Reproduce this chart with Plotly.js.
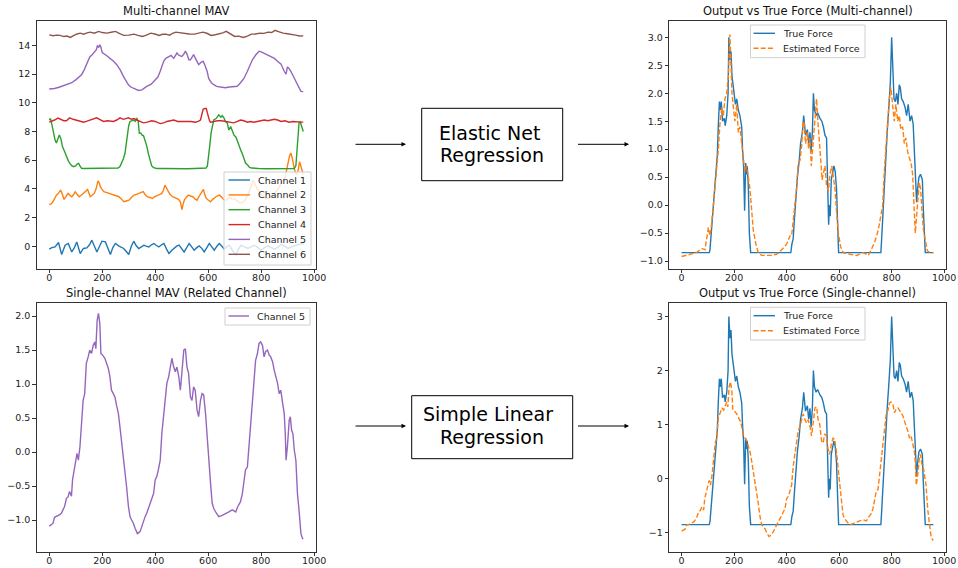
<!DOCTYPE html>
<html>
<head>
<meta charset="utf-8">
<script src="https://cdn.plot.ly/plotly-3.0.1.min.js"></script>
<style>html,body{margin:0;padding:0;background:#fff;}#chart{width:958px;height:568px;}</style>
</head>
<body>
<div id="chart"></div>
<script>
// ---------------- DATA ----------------
const channelNames = ['Channel 1','Channel 2','Channel 3','Channel 4','Channel 5','Channel 6'];
const forceNames = ['True Force','Estimated Force'];
const singleName = ['Channel 5'];
const panelTitles = ['Multi-channel MAV','Single-channel MAV (Related Channel)','Output vs True Force (Multi-channel)','Output vs True Force (Single-channel)'];
const boxTopLines = ['Elastic Net','Regression'];
const boxBottomLines = ['Simple Linear','Regression'];
const xTicks = [0,200,400,600,800,1000];
const yTicksTL = [0,2,4,6,8,10,12,14];
const yTicksBL = [-1.0,-0.5,0.0,0.5,1.0,1.5,2.0];
const yTicksTR = [-1.0,-0.5,0.0,0.5,1.0,1.5,2.0,2.5,3.0];
const yTicksBR = [-1,0,1,2,3];

const ch1X = [0,10,22,35,47,60,72,85,95,104,
117,129,142,152,161,170,180,190,199,212,
222,231,240,250,262,272,281,290,300,310,
319,328,338,348,357,366,376,386,395,405,
414,424,433,443,452,462,471,481,490,500,
509,519,528,538,547,557,566,576,585,595,
604,614,623,633,642,652,661,670,680,692,
705,715,724,737,750,762,775,788,800,813,
826,838,851,864,876,889,902,914,927,940,
952,959];
const ch1Y = [-0.2,-0.1,-0.05,0.26,-0.58,0.07,0.19,-0.4,-0.1,0.3,
-0.51,-0.16,-0.12,0.1,0.42,0.0,-0.4,0.0,0.35,0.3,
-0.2,-0.58,-0.1,0.19,0.02,-0.1,-0.16,-0.35,-0.58,0.0,
0.35,0.05,-0.16,-0.05,0.07,0.0,-0.05,0.1,0.19,0.05,
-0.05,0.1,0.19,-0.2,-0.51,-0.3,-0.16,0.0,0.07,-0.15,
-0.4,-0.1,0.19,-0.05,-0.28,-0.1,0.02,-0.15,-0.4,-0.1,
0.19,-0.05,-0.28,0.0,0.19,0.0,-0.21,-0.05,0.07,-0.3,
-0.63,-0.2,0.07,-0.05,-0.16,-0.05,0.07,-0.1,-0.28,-0.1,
0.02,-0.1,-0.21,-0.05,0.12,0.0,-0.16,-0.05,0.02,0.1,
0.19,0.1];

const ch2X = [0,7,14,20,27,35,43,50,56,63,
71,78,85,92,98,106,113,121,129,137,
145,150,155,162,170,177,184,189,193,200,
206,215,225,234,244,253,263,272,282,291,
301,310,320,329,339,347,355,362,370,380,
389,398,408,416,425,431,437,443,450,457,
465,473,482,489,495,501,505,510,517,525,
533,542,550,558,565,573,582,587,593,601,
609,616,624,633,643,651,659,668,680,690,
700,710,720,728,735,742,750,760,770,778,
785,793,800,810,820,830,840,850,860,868,
875,882,890,896,902,907,912,918,925,930,
935,940,945,950,955,959];
const ch2Y = [2.91,2.95,3.10,3.3,3.56,3.7,3.91,3.6,3.26,3.45,
3.68,3.55,3.45,3.6,3.80,3.6,3.45,3.55,3.68,3.8,
3.96,3.7,3.45,3.55,3.68,4.0,4.56,4.4,4.15,3.95,
3.80,3.75,3.68,3.6,3.56,3.5,3.45,3.3,3.10,3.15,
3.21,3.4,3.56,3.62,3.68,3.75,3.80,3.6,3.45,3.4,
3.33,3.45,3.56,3.6,3.68,3.9,4.26,4.0,3.80,3.6,
3.45,3.4,3.33,3.25,3.10,2.56,2.9,3.21,3.4,3.56,
3.5,3.45,3.3,3.21,3.45,3.68,3.96,3.6,3.33,3.2,
3.10,3.25,3.40,3.5,3.56,3.4,3.26,3.2,3.4,3.3,
3.3,3.15,3.0,3.05,3.1,3.3,3.6,4.1,4.6,4.3,
4.0,3.8,3.6,3.45,3.3,3.35,3.5,3.7,3.9,4.1,
4.4,4.6,4.8,5.3,5.9,6.3,6.5,6.1,5.4,5.1,
5.0,5.3,5.9,5.6,5.3,5.0];

const ch3X = [0,5,10,16,22,27,33,38,44,50,
58,65,72,78,85,92,100,106,111,116,
122,130,150,170,190,210,230,250,260,267,
273,280,286,290,295,300,305,312,318,324,
330,336,340,345,350,356,362,368,375,381,
387,394,400,406,430,460,490,520,550,580,
592,597,602,606,611,616,621,630,640,648,
653,660,665,672,678,685,691,697,705,712,
718,723,730,736,741,749,756,765,774,790,
820,850,880,910,925,931,935,939,943,947,
951,955,959];
const ch3Y = [8.8,8.9,8.5,7.8,7.4,7.2,7.5,7.76,7.5,6.95,
6.6,6.25,5.95,5.78,5.62,5.55,5.6,5.75,5.78,5.6,
5.43,5.42,5.42,5.4,5.42,5.4,5.42,5.42,5.45,5.55,
5.78,6.1,6.48,7.0,7.88,8.4,8.7,8.75,8.8,8.7,
8.93,8.7,7.88,7.9,7.76,7.7,7.4,7.0,6.4,6.0,
5.6,5.48,5.43,5.42,5.42,5.4,5.42,5.4,5.42,5.42,
5.45,5.6,6.25,7.0,7.9,8.5,8.8,8.9,9.16,9.0,
9.1,8.93,8.7,8.6,8.1,8.35,8.0,7.76,7.6,7.3,
6.95,6.7,6.4,6.0,5.8,5.66,5.5,5.45,5.43,5.42,
5.4,5.42,5.42,5.42,5.42,5.6,6.7,7.8,8.6,8.7,
8.5,8.35,8.0];

const ch4X = [0,10,20,33,45,55,65,77,90,100,
115,130,140,155,168,179,190,205,220,235,
242,255,267,280,290,299,310,320,330,343,
356,370,387,400,412,419,432,444,457,470,
485,501,512,520,535,552,562,571,576,581,
587,593,597,600,605,609,620,635,650,665,
680,697,710,722,735,748,760,773,785,798,
812,825,840,850,862,875,890,905,920,935,
950,959];
const ch4Y = [8.65,8.7,8.8,8.93,8.8,8.75,8.75,8.95,8.85,8.8,
8.75,8.65,8.7,8.8,8.9,8.95,8.85,8.7,8.75,8.7,
8.7,8.8,8.95,8.85,8.9,8.95,8.85,8.9,8.8,8.7,
8.6,8.65,8.75,8.7,8.6,8.55,8.6,8.7,8.75,8.8,
8.7,8.7,8.75,8.7,8.7,8.65,8.7,8.8,9.2,9.55,
9.6,9.6,9.3,9.0,8.75,8.65,8.7,8.75,8.75,8.7,
8.65,8.6,8.7,8.8,8.75,8.65,8.7,8.65,8.7,8.75,
8.8,8.75,8.8,8.85,8.8,8.7,8.75,8.65,8.7,8.65,
8.65,8.65];

const ch5X = [0,20,40,65,85,100,112,122,132,140,
147,153,162,172,178,182,187,191,195,200,
210,220,229,240,255,268,280,290,299,308,
318,328,337,350,368,385,400,410,419,425,
432,440,451,460,470,476,482,490,501,508,
514,520,527,533,539,545,552,558,564,572,
581,586,590,596,602,612,621,632,647,665,
680,697,710,722,735,748,758,767,780,792,
800,812,824,837,850,862,875,887,894,899,
905,912,920,931,940,950,959];
const ch5Y = [10.96,11.0,11.1,11.26,11.4,11.6,11.8,11.96,12.3,12.66,
12.9,13.2,13.35,13.6,13.7,14.0,13.85,14.05,13.9,13.5,
13.4,13.25,13.1,12.95,12.66,12.3,11.84,11.5,11.26,11.1,
11.0,10.9,10.86,10.9,11.14,11.3,11.6,11.8,12.2,12.5,
12.9,13.1,13.24,13.3,13.1,13.3,13.47,13.3,13.24,13.4,
13.6,13.4,13.0,13.0,13.2,13.36,13.1,12.9,12.66,12.8,
12.9,12.7,12.5,12.2,11.7,11.4,11.26,11.15,11.1,11.05,
11.1,11.1,11.15,11.4,11.7,12.2,12.6,13.0,13.35,13.6,
13.55,13.45,13.36,13.2,13.1,12.9,12.7,12.2,12.0,12.5,
12.4,12.2,11.9,11.4,11.1,10.8,10.78];

const ch6X = [0,15,28,41,55,67,79,92,105,117,
130,143,155,170,187,200,218,234,250,266,
282,300,320,335,351,367,383,399,415,428,
440,455,466,478,494,510,528,548,563,580,
595,611,627,643,655,668,684,700,716,732,
748,763,779,795,810,826,840,852,868,883,
899,915,930,945,959];
const ch6Y = [14.74,14.68,14.72,14.70,14.62,14.66,14.56,14.7,14.8,14.86,
14.78,14.88,14.93,14.85,14.98,14.9,14.86,14.92,14.98,14.82,
14.70,14.72,14.79,14.7,14.63,14.72,14.86,14.8,14.70,14.78,
14.79,14.72,14.85,14.93,14.88,14.86,14.8,14.79,14.86,14.93,
14.85,14.70,14.75,14.81,14.88,14.98,14.8,14.63,14.65,14.56,
14.65,14.79,14.8,14.86,14.84,14.93,14.9,15.05,14.95,14.86,
14.82,14.79,14.72,14.66,14.67];

const singleX = [0,8,14,20,27,33,40,46,52,58,
65,71,77,84,88,93,100,105,110,116,
122,128,134,140,147,153,160,166,172,176,
181,186,191,195,201,210,217,223,229,235,
242,248,254,261,267,273,280,286,292,299,
305,311,318,324,333,343,349,356,362,368,
378,387,394,400,406,412,419,425,432,438,
444,451,457,463,470,476,482,489,495,501,
508,514,520,526,533,539,545,551,558,564,
571,577,583,590,596,602,609,615,621,631,
640,653,665,678,691,704,712,722,729,735,
741,748,754,760,767,773,779,786,792,798,
805,811,817,824,830,836,843,849,855,862,
868,874,881,887,891,894,899,906,910,915,
920,925,931,937,944,950,956,959];
const singleY = [-1.09,-1.07,-1.05,-0.96,-0.95,-0.93,-0.92,-0.9,-0.85,-0.8,
-0.68,-0.66,-0.58,-0.65,-0.41,-0.29,-0.14,-0.02,-0.12,0.08,
0.42,0.76,0.86,1.3,1.4,1.5,1.45,1.57,1.62,1.52,
1.94,2.04,1.89,1.45,1.43,1.38,1.3,1.23,1.11,0.91,
0.86,0.81,0.69,0.57,0.37,0.18,-0.12,-0.26,-0.51,-0.8,
-0.95,-1.0,-1.05,-1.12,-1.2,-1.17,-1.1,-1.0,-0.95,-0.9,
-0.8,-0.71,-0.61,-0.41,-0.36,-0.26,-0.12,0.27,0.57,0.86,
1.01,1.11,1.25,1.38,1.25,1.18,1.25,1.11,0.91,1.16,
1.5,1.52,1.25,1.16,0.81,0.76,0.96,0.91,0.62,0.52,
0.76,0.86,0.84,0.57,0.23,-0.22,-0.46,-0.75,-0.83,-0.9,
-0.95,-0.93,-0.9,-0.88,-0.85,-0.88,-0.8,-0.73,-0.61,-0.46,
-0.26,-0.22,0.08,0.42,0.76,1.06,1.35,1.45,1.6,1.62,
1.57,1.4,1.48,1.5,1.43,1.4,1.33,1.21,1.11,1.01,
0.86,0.91,0.72,0.57,0.27,-0.12,0.08,0.47,0.52,0.32,
0.27,0.03,-0.12,-0.61,-0.9,-1.2,-1.27,-1.28];
const estSingleY = [-0.97,-0.95,-0.93,-0.85,-0.85,-0.83,-0.82,-0.80,-0.76,-0.71,
-0.61,-0.59,-0.52,-0.58,-0.37,-0.27,-0.13,-0.03,-0.12,0.06,
0.36,0.66,0.75,1.13,1.22,1.31,1.27,1.37,1.42,1.33,
1.70,1.79,1.65,1.27,1.25,1.20,1.13,1.07,0.97,0.79,
0.75,0.70,0.60,0.49,0.32,0.15,-0.12,-0.24,-0.46,-0.71,
-0.85,-0.89,-0.93,-1.00,-1.07,-1.04,-0.98,-0.89,-0.85,-0.80,
-0.71,-0.63,-0.55,-0.37,-0.33,-0.24,-0.12,0.23,0.49,0.75,
0.88,0.97,1.09,1.20,1.09,1.03,1.09,0.97,0.79,1.01,
1.31,1.33,1.09,1.01,0.70,0.66,0.83,0.79,0.54,0.45,
0.66,0.75,0.73,0.49,0.19,-0.20,-0.41,-0.67,-0.74,-0.80,
-0.85,-0.83,-0.80,-0.78,-0.76,-0.78,-0.71,-0.65,-0.55,-0.41,
-0.24,-0.20,0.06,0.36,0.66,0.92,1.18,1.27,1.40,1.42,
1.37,1.22,1.29,1.31,1.25,1.22,1.16,1.05,0.97,0.88,
0.75,0.79,0.62,0.49,0.23,-0.12,0.06,0.40,0.45,0.27,
0.23,0.02,-0.12,-0.55,-0.80,-1.07,-1.13,-1.14];

const forceX = [0,20,40,60,80,100,105,108,112,118,
124,130,136,140,144,147,151,156,163,166,
172,177,180,184,188,192,197,201,205,210,
216,222,229,232,236,240,244,248,250,254,
258,263,300,350,400,416,420,425,429,434,
441,448,453,460,465,472,479,484,489,493,
498,502,506,512,518,527,534,540,546,552,
556,560,563,566,570,575,580,585,590,594,
598,650,700,759,762,766,771,777,783,790,
795,800,804,809,814,819,824,829,833,838,
844,851,857,863,870,876,882,886,890,895,
899,904,910,917,920,924,928,959];
const forceY = [-0.85,-0.85,-0.85,-0.85,-0.85,-0.85,-0.85,-0.8,-0.55,-0.2,
0.05,0.45,0.9,1.45,1.85,1.7,1.85,1.5,1.55,1.42,
1.6,2.0,3.0,2.6,2.75,2.3,2.1,1.95,1.8,1.9,
1.7,1.6,1.4,1.0,0.7,-0.1,0.75,0.55,0.7,0.35,
-0.5,-0.85,-0.85,-0.85,-0.85,-0.85,-0.7,-0.6,-0.3,0.1,
0.5,0.8,1.1,1.3,1.6,1.25,1.35,1.1,1.3,0.95,
1.3,2.0,1.7,1.6,1.65,1.55,1.5,1.4,1.25,1.2,
0.5,-0.35,0.0,-0.2,0.45,0.6,0.7,0.6,0.3,-0.3,
-0.85,-0.85,-0.85,-0.85,-0.6,-0.2,0.3,0.8,1.3,1.8,
2.2,3.0,2.5,1.9,1.85,2.0,1.8,2.15,2.1,1.9,
1.85,1.75,1.6,1.8,1.5,1.6,1.45,1.0,0.4,0.05,
0.3,0.5,0.55,0.45,0.0,-0.5,-0.85,-0.85];

const estMultiX = [0,19,45,57,70,80,89,95,102,108,
114,121,127,134,140,146,153,159,165,172,
178,184,188,192,197,203,210,216,222,229,
235,241,248,254,260,267,273,283,292,305,
337,362,381,400,413,419,425,432,438,444,
451,457,463,467,472,479,484,489,494,499,
505,510,514,519,524,530,535,540,546,552,
559,565,572,578,584,590,597,606,616,641,
667,692,711,724,736,749,758,766,772,778,
785,791,797,804,810,816,823,829,835,842,
848,854,861,867,874,880,885,890,895,900,
905,910,915,920,927,936,946,959];
const estMultiY = [-0.92,-0.9,-0.87,-0.85,-0.8,-0.78,-0.8,-0.6,-0.4,-0.55,
-0.35,0.0,0.3,0.6,1.0,1.45,1.75,1.6,1.9,2.0,
2.3,3.05,2.5,2.0,1.75,1.5,1.8,1.3,1.4,1.1,
0.85,0.6,0.7,0.5,0.3,-0.1,-0.45,-0.7,-0.85,-0.9,
-0.9,-0.88,-0.8,-0.7,-0.55,-0.55,-0.3,0.0,0.3,0.75,
0.8,1.05,1.5,1.45,1.1,1.3,1.0,1.2,0.7,1.0,
1.4,1.6,1.9,1.5,1.1,0.8,0.45,0.55,0.7,0.35,
0.25,0.55,0.7,0.5,0.3,-0.1,-0.5,-0.75,-0.85,-0.88,
-0.9,-0.85,-0.9,-0.78,-0.65,-0.45,-0.2,0.0,0.6,1.0,
1.5,1.9,2.1,1.7,1.5,1.8,1.5,1.6,1.35,1.4,
1.1,1.2,0.95,0.85,0.75,0.55,0.1,-0.5,-0.2,0.2,
0.4,0.3,-0.1,-0.4,-0.6,-0.82,-0.85,-0.85];

// ---------------- STYLE / LAYOUT ----------------
const C = ['#1f77b4','#ff7f0e','#2ca02c','#d62728','#9467bd','#8c564b'];
const W = 958, H = 568;
const px = x => x / W, py = y => 1 - y / H;
const FONT = 'DejaVu Sans, Verdana, sans-serif';
const LW = 1.4, DASH = '5px,2.2px';

const chX = [ch1X,ch2X,ch3X,ch4X,ch5X,ch6X];
const chY = [ch1Y,ch2Y,ch3Y,ch4Y,ch5Y,ch6Y];
const traces = [];
for (let i = 0; i < 6; i++) {
  traces.push({x: chX[i], y: chY[i], type: 'scatter', mode: 'lines', name: channelNames[i],
    line: {color: C[i], width: LW}, xaxis: 'x', yaxis: 'y', showlegend: false});
}
traces.push({x: singleX, y: singleY, type: 'scatter', mode: 'lines', name: singleName[0],
  line: {color: C[4], width: LW}, xaxis: 'x2', yaxis: 'y2', showlegend: false});
traces.push({x: forceX, y: forceY, type: 'scatter', mode: 'lines', name: forceNames[0],
  line: {color: C[0], width: LW}, xaxis: 'x3', yaxis: 'y3', showlegend: false});
traces.push({x: estMultiX, y: estMultiY, type: 'scatter', mode: 'lines', name: forceNames[1],
  line: {color: C[1], width: LW, dash: DASH}, xaxis: 'x3', yaxis: 'y3', showlegend: false});
traces.push({x: forceX, y: forceY, type: 'scatter', mode: 'lines', name: forceNames[0],
  line: {color: C[0], width: LW}, xaxis: 'x4', yaxis: 'y4', showlegend: false});
traces.push({x: singleX, y: estSingleY, type: 'scatter', mode: 'lines', name: forceNames[1],
  line: {color: C[1], width: LW, dash: DASH}, xaxis: 'x4', yaxis: 'y4', showlegend: false});

function axis(extra) {
  return Object.assign({
    showgrid: false, zeroline: false, showline: true, mirror: true,
    linecolor: '#000', linewidth: 0.8, ticks: 'outside', ticklen: 3.5, tickwidth: 0.8,
    tickcolor: '#000', tickfont: {family: FONT, size: 9.5, color: '#222'}
  }, extra);
}
const xr = [-48, 1007];
const colL = [px(36.5), px(316)], colR = [px(669), px(946)];
const rowT = [py(269), py(20.5)], rowB = [py(552), py(302.5)];
const xAx = (d, a) => axis({domain: d, anchor: a, range: xr, tickvals: xTicks, ticklabelstandoff: -4});

const layout = {
  width: W, height: H, margin: {l: 0, r: 0, t: 0, b: 0},
  paper_bgcolor: '#fff', plot_bgcolor: '#fff', showlegend: false,
  font: {family: FONT, color: '#222'},
  xaxis: xAx(colL, 'y'),
  yaxis: axis({domain: rowT, anchor: 'x', range: [-1.59, 15.74], tickvals: yTicksTL}),
  xaxis2: xAx(colL, 'y2'),
  yaxis2: axis({domain: rowB, anchor: 'x2', range: [-1.47, 2.2], tickvals: yTicksBL, tickformat: '.1f'}),
  xaxis3: xAx(colR, 'y3'),
  yaxis3: axis({domain: rowT, anchor: 'x3', range: [-1.143, 3.30], tickvals: yTicksTR, tickformat: '.1f'}),
  xaxis4: xAx(colR, 'y4'),
  yaxis4: axis({domain: rowB, anchor: 'x4', range: [-1.356, 3.26], tickvals: yTicksBR}),
  shapes: [], annotations: []
};

// Panel titles
const titlePos = [[176.3, 10.5], [176.3, 292.7], [807.5, 10.5], [807.5, 292.7]];
panelTitles.forEach((t, i) => layout.annotations.push({
  text: t, x: px(titlePos[i][0]), y: py(titlePos[i][1]), xref: 'paper', yref: 'paper',
  xanchor: 'center', yanchor: 'middle', showarrow: false,
  font: {family: FONT, size: 11.5, color: '#111'}
}));

// Custom legends (matplotlib style)
function legend(box, names, colors, dashes, rowY, lineX, textX) {
  layout.shapes.push({type: 'rect', xref: 'paper', yref: 'paper', layer: 'above',
    x0: px(box[0]), x1: px(box[1]), y0: py(box[3]), y1: py(box[2]),
    fillcolor: 'rgba(255,255,255,0.8)', line: {color: '#d0d0d0', width: 1}});
  names.forEach((n, i) => {
    layout.shapes.push({type: 'line', xref: 'paper', yref: 'paper', layer: 'above',
      x0: px(lineX[0]), x1: px(lineX[1]), y0: py(rowY[i]), y1: py(rowY[i]),
      line: {color: colors[i], width: LW, dash: dashes[i]}});
    layout.annotations.push({text: n, x: px(textX), y: py(rowY[i]), xref: 'paper', yref: 'paper',
      xanchor: 'left', yanchor: 'middle', showarrow: false,
      font: {family: FONT, size: 9.5, color: '#222'}});
  });
}
legend([224, 311, 172, 265], channelNames, C, C.map(() => 'solid'),
  [180, 194.9, 209.7, 224.6, 239.4, 254.3], [228.5, 250], 255.5);
legend([225, 310, 308, 325], singleName, [C[4]], ['solid'], [316], [228.5, 249], 255);
legend([750.5, 865, 25, 57.7], forceNames, [C[0], C[1]], ['solid', DASH], [33.3, 48.3], [753.5, 775], 780.5);
legend([750.5, 865, 307.3, 340], forceNames, [C[0], C[1]], ['solid', DASH], [315.7, 330.7], [753.5, 775], 780.5);

// Model boxes
function modelBox(box, lines, lineX, lineY) {
  layout.shapes.push({type: 'rect', xref: 'paper', yref: 'paper',
    x0: px(box[0]), x1: px(box[1]), y0: py(box[3]), y1: py(box[2]),
    fillcolor: '#fff', line: {color: '#000', width: 1}});
  lines.forEach((t, i) => layout.annotations.push({text: t, x: px(lineX[i]), y: py(lineY[i]),
    xref: 'paper', yref: 'paper', xanchor: 'center', yanchor: 'middle', showarrow: false,
    font: {family: FONT, size: 19, color: '#000'}}));
}
modelBox([421.7, 562.7, 108.3, 180.7], boxTopLines, [489, 492], [132.5, 155.5]);
modelBox([411.7, 572.7, 395.7, 458.7], boxBottomLines, [488.3, 492], [413.5, 437]);

// Arrows
function arrow(x0, x1, y) {
  layout.annotations.push({text: '', x: px(x1), y: py(y), xref: 'paper', yref: 'paper',
    ax: x0 - x1, ay: 0, axref: 'pixel', ayref: 'pixel', showarrow: true,
    arrowhead: 2, arrowsize: 0.9, arrowwidth: 1, arrowcolor: '#000', standoff: 0, startstandoff: 0});
}
arrow(354, 406, 144.3); arrow(576.5, 629, 144.3);
arrow(354, 406, 426); arrow(576.5, 629, 426);

Plotly.newPlot('chart', traces, layout, {displayModeBar: false, staticPlot: true});
</script>
</body>
</html>
